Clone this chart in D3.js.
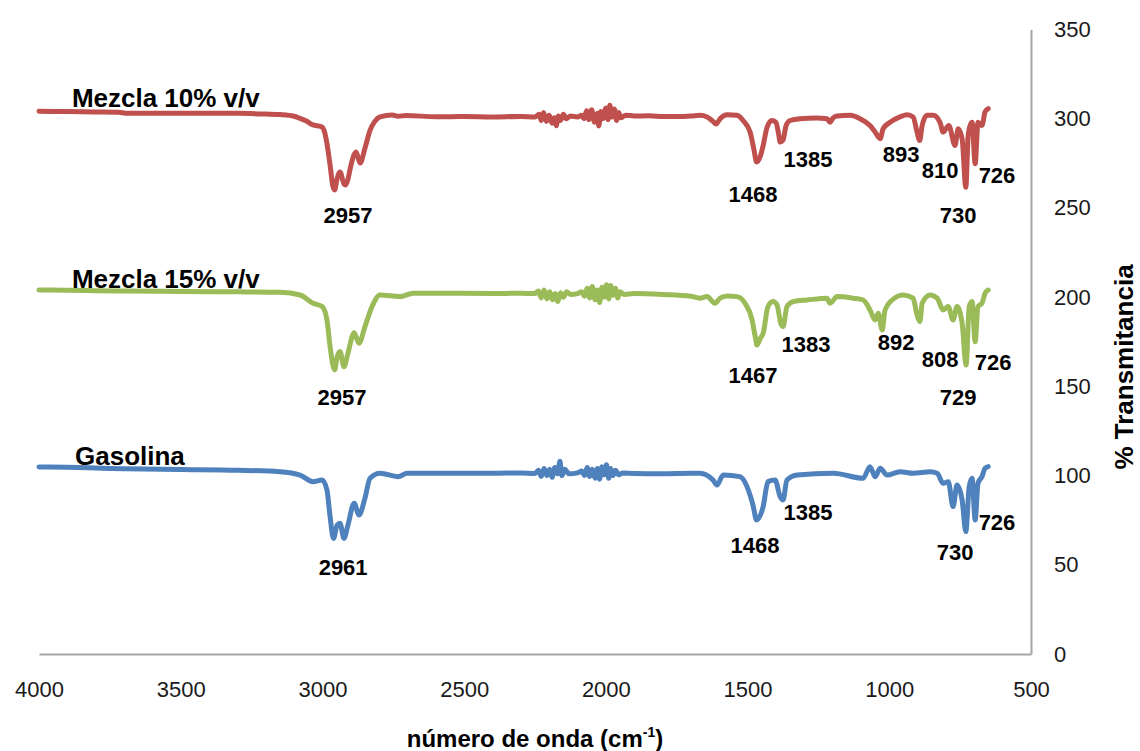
<!DOCTYPE html>
<html>
<head>
<meta charset="utf-8">
<script src="https://cdn.jsdelivr.net/npm/d3@7"></script>
<style>
  html, body { margin: 0; padding: 0; background: #fff; }
  svg { display: block; font-family: "Liberation Sans", Arial, sans-serif; }
</style>
</head>
<body>
<svg id="chart" width="1140" height="751"></svg>
<script>
// Axis ranges and tick labels
const xDomain = [4000, 500];
const yDomain = [0, 350];
const xTicks = [4000, 3500, 3000, 2500, 2000, 1500, 1000, 500];
const yTicks = [0, 50, 100, 150, 200, 250, 300, 350];

// FTIR spectra: [wavenumber (cm-1), % transmittance (offset per sample)]
const mezcla10 = [
  [4000, 304.2], [3900, 304.0], [3800, 303.8], [3720, 303.6], [3690, 303.0],
  [3500, 303.1], [3300, 303.0], [3200, 302.6], [3150, 302.3], [3100, 301.4],
  [3079, 300.2], [3060, 299.0], [3033, 296.5], [3010, 295.8], [3001, 295.3],
  [2990, 291.0], [2984, 286.0], [2973, 274.0], [2963, 262.0], [2957, 260.1],
  [2948, 266.5], [2938, 270.2], [2924, 263.5], [2918, 262.9], [2910, 266.0],
  [2903, 271.3], [2888, 280.0], [2881, 281.4], [2871, 276.5], [2867, 275.2],
  [2850, 283.5], [2832, 293.5], [2815, 298.5], [2797, 301.0], [2754, 302.1],
  [2733, 301.4], [2705, 301.8], [2600, 301.1], [2500, 301.2], [2400, 301.0],
  [2300, 301.3], [2250, 301.0], [2235, 302.5], [2228, 299.0], [2220, 303.5],
  [2210, 298.5], [2200, 302.0], [2190, 297.5], [2182, 300.5], [2175, 296.0],
  [2168, 301.5], [2160, 299.0], [2150, 302.5], [2140, 300.0], [2125, 301.5],
  [2100, 301.0], [2085, 302.0], [2077, 300.0], [2068, 304.5], [2060, 299.5],
  [2050, 305.0], [2040, 298.0], [2030, 303.0], [2025, 296.0], [2018, 304.0],
  [2010, 300.0], [2000, 306.0], [1992, 299.5], [1986, 307.5], [1978, 301.0],
  [1970, 305.5], [1962, 299.0], [1955, 303.5], [1946, 300.5], [1930, 302.0],
  [1900, 301.5], [1850, 301.6], [1800, 301.3], [1750, 301.2], [1700, 301.5],
  [1668, 301.9], [1643, 301.0], [1622, 298.5], [1611, 297.0], [1597, 300.0],
  [1572, 302.2], [1537, 301.9], [1516, 299.0], [1491, 292.5], [1478, 283.0],
  [1468, 275.7], [1455, 279.0], [1445, 285.0], [1431, 295.3], [1414, 299.0],
  [1400, 298.0], [1390, 291.0], [1385, 286.9], [1375, 288.0], [1364, 296.2],
  [1350, 299.0], [1315, 300.0], [1256, 300.4], [1220, 300.0], [1209, 298.0],
  [1198, 300.5], [1184, 301.5], [1138, 301.9], [1103, 300.0], [1068, 296.2],
  [1050, 292.5], [1032, 288.8], [1022, 294.4], [997, 298.0], [962, 301.0],
  [937, 302.2], [916, 301.0], [902, 292.5], [893, 287.8], [884, 296.2],
  [867, 301.9], [845, 301.9], [821, 298.0], [810, 292.5], [790, 296.2],
  [768, 285.0], [757, 294.4], [743, 288.8], [730, 261.6], [722, 290.0],
  [718, 294.4], [708, 298.0], [697, 274.7], [687, 298.0], [673, 296.2],
  [662, 303.8], [651, 305.6]
];

const mezcla15 = [
  [4000, 204.0], [3900, 203.9], [3800, 203.6], [3700, 203.4], [3500, 203.2],
  [3300, 203.0], [3150, 202.7], [3079, 201.2], [3033, 196.6], [3001, 194.7],
  [2984, 187.2], [2973, 172.3], [2957, 159.2], [2948, 166.6], [2938, 169.5],
  [2924, 161.0], [2910, 168.6], [2888, 180.1], [2871, 174.2], [2850, 183.5],
  [2825, 194.7], [2797, 201.2], [2726, 200.3], [2680, 202.2], [2585, 202.2],
  [2400, 202.0], [2300, 202.2], [2250, 202.0], [2238, 203.5], [2228, 199.5],
  [2218, 204.0], [2208, 199.0], [2198, 203.0], [2188, 198.5], [2178, 202.0],
  [2170, 197.5], [2160, 202.5], [2150, 200.0], [2138, 203.0], [2125, 201.5],
  [2100, 202.0], [2085, 203.0], [2075, 200.5], [2066, 205.0], [2057, 199.5],
  [2048, 206.0], [2038, 198.5], [2030, 204.0], [2022, 197.0], [2014, 205.5],
  [2006, 200.0], [1998, 207.0], [1990, 199.0], [1983, 206.5], [1975, 201.0],
  [1966, 205.0], [1958, 199.5], [1950, 203.0], [1935, 201.5], [1900, 202.0],
  [1800, 201.5], [1700, 200.5], [1668, 199.4], [1643, 200.3], [1615, 196.6],
  [1597, 199.5], [1572, 200.7], [1537, 200.3], [1509, 196.6], [1484, 187.2],
  [1472, 177.0], [1467, 173.2], [1455, 177.0], [1445, 179.8], [1428, 194.7],
  [1410, 197.5], [1396, 195.6], [1383, 185.4], [1375, 183.5], [1361, 194.7],
  [1339, 197.5], [1290, 198.4], [1220, 199.4], [1209, 196.6], [1184, 200.3],
  [1128, 199.4], [1092, 198.4], [1068, 192.8], [1050, 187.2], [1039, 191.0],
  [1025, 181.6], [1015, 192.8], [990, 198.4], [951, 201.2], [916, 199.4],
  [902, 190.0], [892, 186.3], [884, 196.6], [856, 201.2], [831, 199.4],
  [810, 192.8], [792, 194.7], [775, 187.2], [761, 194.7], [743, 185.4],
  [729, 162.0], [718, 194.7], [708, 197.5], [697, 175.0], [687, 194.7],
  [673, 196.6], [662, 202.2], [651, 204.0]
];

const gasolina = [
  [4000, 104.8], [3900, 104.6], [3800, 104.2], [3700, 103.8], [3500, 103.4],
  [3300, 103.0], [3150, 102.2], [3079, 100.3], [3033, 96.6], [3001, 97.5],
  [2984, 91.9], [2973, 77.0], [2961, 64.8], [2948, 72.3], [2938, 73.3],
  [2924, 64.8], [2910, 72.3], [2888, 84.5], [2871, 77.9], [2850, 87.3],
  [2832, 98.5], [2797, 101.3], [2733, 99.4], [2701, 101.3], [2585, 101.3],
  [2400, 101.3], [2300, 101.5], [2250, 101.2], [2238, 103.0], [2228, 99.5],
  [2218, 104.0], [2208, 100.0], [2198, 103.5], [2190, 99.0], [2180, 104.5],
  [2170, 101.0], [2162, 108.0], [2155, 100.0], [2145, 103.5], [2130, 101.0],
  [2100, 101.5], [2085, 102.5], [2075, 100.0], [2066, 104.5], [2057, 99.5],
  [2048, 103.5], [2038, 98.5], [2030, 104.0], [2022, 98.0], [2014, 105.0],
  [2006, 100.5], [1998, 106.0], [1990, 98.5], [1983, 104.0], [1975, 100.0],
  [1966, 103.0], [1955, 100.5], [1940, 101.5], [1900, 101.2], [1800, 101.0],
  [1700, 101.3], [1668, 101.3], [1622, 97.5], [1608, 94.7], [1586, 100.3],
  [1527, 99.4], [1502, 93.8], [1481, 83.5], [1468, 75.1], [1445, 82.6],
  [1428, 96.6], [1403, 97.5], [1385, 88.2], [1375, 86.3], [1361, 97.5],
  [1325, 100.3], [1198, 101.3], [1092, 98.5], [1068, 105.0], [1050, 99.4],
  [1032, 104.1], [1008, 100.3], [962, 102.2], [916, 101.3], [856, 102.2],
  [831, 101.3], [810, 95.7], [792, 96.6], [775, 82.6], [761, 94.7],
  [743, 86.3], [730, 68.6], [718, 93.8], [708, 98.5], [697, 75.1],
  [687, 95.7], [673, 99.4], [662, 104.1], [651, 105.0]
];

const seriesNames = ["Mezcla 10% v/v", "Mezcla 15% v/v", "Gasolina"];
const seriesData = [mezcla10, mezcla15, gasolina];
const seriesColors = ["#C0504D", "#9BBB59", "#4F81BD"];
// Series name anchors in data units [wavenumber, transmittance]
const seriesLabelAt = [[3884, 306.6], [3884, 205.2], [3873, 105.9]];

// Peak annotations: [text, wavenumber of label centre, transmittance of label baseline]
const peaks10 = [["2957", 2910, 241.6], ["1468", 1481, 253.4], ["1385", 1287, 273.0],
                 ["893", 958, 275.8], ["810", 821, 266.8], ["730", 757, 241.6], ["726", 620, 264.0]];
const peaks15 = [["2957", 2931, 139.6], ["1467", 1481, 151.9], ["1383", 1294, 169.3],
                 ["892", 976, 170.4], ["808", 821, 160.9], ["729", 757, 139.6], ["726", 634, 159.2]];
const peaksGas = [["2961", 2927, 44.3], ["1468", 1474, 56.6], ["1385", 1287, 75.1],
                  ["730", 768, 52.7], ["726", 620, 69.5]];

const svg = d3.select("#chart");
const plotLeft = 39, plotRight = 1031, plotTop = 29.5, plotBottom = 654;

const x = d3.scaleLinear().domain(xDomain).range([plotLeft, plotRight]);
const y = d3.scaleLinear().domain(yDomain).range([plotBottom, plotTop]);

// Axes (lines only, no tick marks)
const xAxis = d3.axisBottom(x).tickValues(xTicks).tickSize(0).tickPadding(27).tickFormat(d3.format("d"));
const yAxis = d3.axisRight(y).tickValues(yTicks).tickSize(0).tickPadding(23).tickFormat(d3.format("d"));

const gx = svg.append("g").attr("transform", `translate(0,${plotBottom})`).call(xAxis);
const gy = svg.append("g").attr("transform", `translate(${plotRight},0)`).call(yAxis);
[gx, gy].forEach(g => {
  g.select(".domain").attr("stroke", "#a6a6a6").attr("stroke-width", 2);
  g.selectAll("text").attr("font-size", 22).attr("fill", "#1a1a1a")
    .attr("font-family", "Liberation Sans, Arial, sans-serif");
});
gx.selectAll("text").attr("dy", "0.71em");

// Spectra
const line = d3.line().x(d => x(d[0])).y(d => y(d[1])).curve(d3.curveMonotoneX);
seriesData.forEach((data, i) => {
  svg.append("path")
    .datum(data)
    .attr("d", line)
    .attr("fill", "none")
    .attr("stroke", seriesColors[i])
    .attr("stroke-width", 5)
    .attr("stroke-linejoin", "round")
    .attr("stroke-linecap", "round");
});

// Series names
seriesNames.forEach((name, i) => {
  svg.append("text")
    .attr("x", x(seriesLabelAt[i][0]))
    .attr("y", y(seriesLabelAt[i][1]))
    .attr("font-size", 26)
    .attr("font-weight", "bold")
    .attr("fill", "#000")
    .text(name);
});

// Peak labels
[peaks10, peaks15, peaksGas].forEach(list => {
  svg.append("g").selectAll("text")
    .data(list)
    .join("text")
    .attr("x", d => x(d[1]))
    .attr("y", d => y(d[2]))
    .attr("text-anchor", "middle")
    .attr("font-size", 22)
    .attr("font-weight", "bold")
    .attr("fill", "#000")
    .text(d => d[0]);
});

// Axis titles
const xTitle = svg.append("text")
  .attr("x", 535).attr("y", 747)
  .attr("text-anchor", "middle")
  .attr("font-size", 24)
  .attr("font-weight", "bold")
  .attr("fill", "#000");
xTitle.append("tspan").text("número de onda (cm");
xTitle.append("tspan").attr("font-size", 14).attr("dy", -10).text("-1");
xTitle.append("tspan").attr("dy", 10).text(")");

svg.append("text")
  .attr("transform", "translate(1133,367) rotate(-90)")
  .attr("text-anchor", "middle")
  .attr("font-size", 26)
  .attr("font-weight", "bold")
  .attr("fill", "#000")
  .text("% Transmitancia");
</script>
</body>
</html>
